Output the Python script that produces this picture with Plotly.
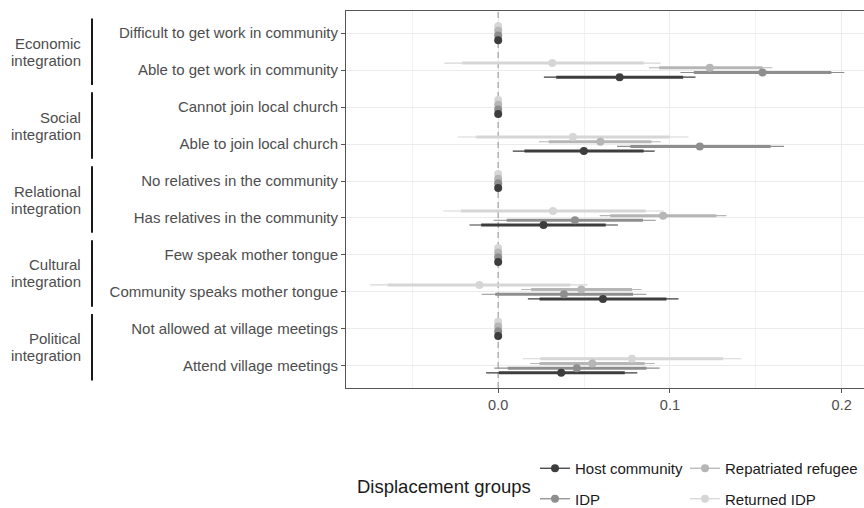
import plotly.graph_objects as go

labels = ["Difficult to get work in community", "Able to get work in community",
          "Cannot join local church", "Able to join local church",
          "No relatives in the community", "Has relatives in the community",
          "Few speak mother tongue", "Community speaks mother tongue",
          "Not allowed at village meetings", "Attend village meetings"]

group_labels = [("Economic", "integration"), ("Social", "integration"),
                ("Relational", "integration"), ("Cultural", "integration"),
                ("Political", "integration")]

groups = ["Host community", "IDP", "Repatriated refugee", "Returned IDP"]

host_est  = [0, 0.0707, 0, 0.0499, 0, 0.0264, 0, 0.0610, 0, 0.0367]
host_lo90 = [0, 0.0338, 0, 0.0153, 0, -0.0099, 0, 0.0241, 0, 0.0004]
host_hi90 = [0, 0.1077, 0, 0.0847, 0, 0.0626, 0, 0.0980, 0, 0.0737]
host_lo95 = [0, 0.0266, 0, 0.0085, 0, -0.0167, 0, 0.0173, 0, -0.0070]
host_hi95 = [0, 0.1149, 0, 0.0911, 0, 0.0697, 0, 0.1050, 0, 0.0810]

idp_est  = [0, 0.1539, 0, 0.1174, 0, 0.0447, 0, 0.0383, 0, 0.0458]
idp_lo90 = [0, 0.1139, 0, 0.0770, 0, 0.0050, 0, -0.0017, 0, 0.0056]
idp_hi90 = [0, 0.1940, 0, 0.1586, 0, 0.0843, 0, 0.0785, 0, 0.0863]
idp_lo95 = [0, 0.1061, 0, 0.0692, 0, -0.0027, 0, -0.0096, 0, -0.0022]
idp_hi95 = [0, 0.2015, 0, 0.1664, 0, 0.0917, 0, 0.0863, 0, 0.0940]

rep_est  = [0, 0.1232, 0, 0.0595, 0, 0.0960, 0, 0.0484, 0, 0.0548]
rep_lo90 = [0, 0.0937, 0, 0.0295, 0, 0.0653, 0, 0.0192, 0, 0.0241]
rep_hi90 = [0, 0.1539, 0, 0.0892, 0, 0.1271, 0, 0.0779, 0, 0.0853]
rep_lo95 = [0, 0.0878, 0, 0.0237, 0, 0.0591, 0, 0.0134, 0, 0.0187]
rep_hi95 = [0, 0.1596, 0, 0.0946, 0, 0.1329, 0, 0.0834, 0, 0.0911]

ret_est  = [0, 0.0315, 0, 0.0435, 0, 0.0319, 0, -0.0109, 0, 0.0779]
ret_lo90 = [0, -0.0210, 0, -0.0128, 0, -0.0216, 0, -0.0644, 0, 0.0245]
ret_hi90 = [0, 0.0847, 0, 0.0999, 0, 0.0859, 0, 0.0420, 0, 0.1310]
ret_lo95 = [0, -0.0313, 0, -0.0235, 0, -0.0319, 0, -0.0745, 0, 0.0143]
ret_hi95 = [0, 0.0946, 0, 0.1108, 0, 0.0964, 0, 0.0522, 0, 0.1417]

x_ticks = [0.0, 0.1, 0.2]
x_ticktext = ["0.0", "0.1", "0.2"]

data = {
    "Host community": (host_est, host_lo90, host_hi90, host_lo95, host_hi95),
    "IDP": (idp_est, idp_lo90, idp_hi90, idp_lo95, idp_hi95),
    "Repatriated refugee": (rep_est, rep_lo90, rep_hi90, rep_lo95, rep_hi95),
    "Returned IDP": (ret_est, ret_lo90, ret_hi90, ret_lo95, ret_hi95),
}
colors = {"Host community": "#3d3d3d", "IDP": "#8e8e8e",
          "Repatriated refugee": "#b6b6b6", "Returned IDP": "#d6d6d6"}
offsets = {"Host community": -0.19, "IDP": -0.063,
           "Repatriated refugee": 0.063, "Returned IDP": 0.19}

n = len(labels)
pos = [n - i for i in range(n)]  # top row highest

fig = go.Figure()

# zero reference line
fig.add_trace(go.Scatter(x=[0, 0], y=[0.4, n + 0.6], mode="lines",
                         line=dict(color="#a6a6a6", width=1.3, dash="6px,4px"),
                         showlegend=False, hoverinfo="skip"))

draw_order = ["Returned IDP", "Repatriated refugee", "IDP", "Host community"]
for g in draw_order:
    est, lo90, hi90, lo95, hi95 = data[g]
    ys = [p + offsets[g] for p in pos]
    xt, yt, xk, yk = [], [], [], []
    for i in range(n):
        xt += [lo95[i], hi95[i], None]
        yt += [ys[i], ys[i], None]
        xk += [lo90[i], hi90[i], None]
        yk += [ys[i], ys[i], None]
    fig.add_trace(go.Scatter(x=xt, y=yt, mode="lines",
                             line=dict(color=colors[g], width=1.1),
                             showlegend=False, hoverinfo="skip"))
    fig.add_trace(go.Scatter(x=xk, y=yk, mode="lines",
                             line=dict(color=colors[g], width=3),
                             showlegend=False, hoverinfo="skip"))

for g in draw_order:
    est = data[g][0]
    ys = [p + offsets[g] for p in pos]
    fig.add_trace(go.Scatter(x=est, y=ys, mode="markers",
                             marker=dict(color=colors[g], size=8, line=dict(width=0)),
                             showlegend=False, name=g))

# legend entries (two columns)
legend_cols = {"Host community": "legend", "IDP": "legend",
               "Repatriated refugee": "legend2", "Returned IDP": "legend2"}
for k, g in enumerate(groups):
    fig.add_trace(go.Scatter(x=[None], y=[None], mode="lines+markers", name=g,
                             line=dict(color=colors[g], width=1.3),
                             marker=dict(color=colors[g], size=8),
                             legend=legend_cols[g], legendgroup=g, legendrank=k))

W, H = 864, 508
ml, mr, mt = 346, 0, 11
mb = H - 388
pw = W - ml - mr
ph = H - mt - mb

def px_x(p):
    return (p - ml) / pw

def px_y(p):
    return (H - mb - p) / ph

annotations = []
shapes = []
for k, (l1, l2) in enumerate(group_labels):
    mid = n - 2 * k - 0.5
    annotations.append(dict(x=px_x(83), xref="paper", y=mid, yref="y", text=l1,
                            showarrow=False, xanchor="right", yanchor="middle",
                            yshift=8.5, font=dict(size=15, color="#4d4d4d")))
    annotations.append(dict(x=px_x(83), xref="paper", y=mid, yref="y", text=l2,
                            showarrow=False, xanchor="right", yanchor="middle",
                            yshift=-8.5, font=dict(size=15, color="#4d4d4d")))
    shapes.append(dict(type="line", xref="paper", yref="y",
                       x0=px_x(92), x1=px_x(92), y0=mid - 0.9, y1=mid + 0.9,
                       line=dict(color="#1a1a1a", width=2)))

annotations.append(dict(x=px_x(355), xref="paper", y=px_y(486), yref="paper",
                        text="Displacement groups", showarrow=False,
                        xanchor="left", yanchor="middle",
                        font=dict(size=18.5, color="#1a1a1a")))

legend_common = dict(xref="container", yref="container", xanchor="left", yanchor="top",
                     orientation="v", tracegroupgap=8,
                     font=dict(size=15, color="#1a1a1a"), bgcolor="rgba(0,0,0,0)")

fig.update_layout(
    width=W, height=H, autosize=False,
    margin=dict(l=ml, r=mr, t=mt, b=mb, autoexpand=False),
    paper_bgcolor="white", plot_bgcolor="white",
    font=dict(family="Liberation Sans, Arial, sans-serif"),
    xaxis=dict(range=[-0.0886, 0.213], tickvals=x_ticks, ticktext=x_ticktext,
               automargin=False,
               showgrid=True, gridcolor="#ebebeb", gridwidth=1,
               minor=dict(dtick=0.05, tick0=0, showgrid=True, gridcolor="#f2f2f2", gridwidth=0.6),
               zeroline=False, showline=True, linecolor="#555555", linewidth=1, mirror=True,
               ticks="outside", ticklen=4, tickcolor="#555555", tickwidth=1,
               tickfont=dict(size=14.5, color="#4d4d4d")),
    yaxis=dict(range=[0.4, n + 0.6], tickvals=pos, ticktext=labels,
               automargin=False,
               showgrid=True, gridcolor="#ebebeb", gridwidth=1,
               zeroline=False, showline=True, linecolor="#555555", linewidth=1, mirror=False,
               ticks="outside", ticklen=4, tickcolor="#555555", tickwidth=1,
               tickfont=dict(size=15, color="#4d4d4d")),
    legend=dict(x=535 / W, y=(H - 452) / H, **legend_common),
    legend2=dict(x=685 / W, y=(H - 452) / H, **legend_common),
    annotations=annotations, shapes=shapes,
)

fig.write_html("out.html", config={"displayModeBar": False},
               post_script="document.documentElement.style.margin='0';"
                           "document.body.style.margin='0';"
                           "document.body.style.overflow='hidden';")
